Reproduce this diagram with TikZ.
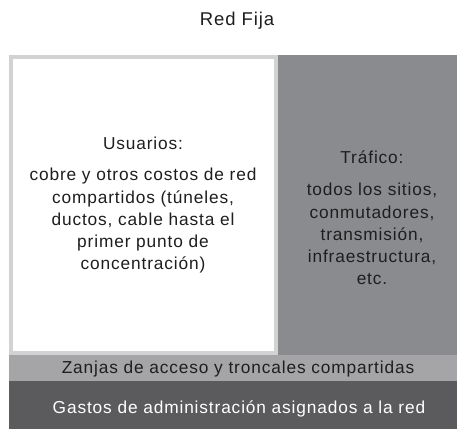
\documentclass[tikz,border=0pt]{standalone}
\usepackage{fontspec}
\setmainfont{Liberation Sans}[LetterSpace=5]
\definecolor{frame}{HTML}{D2D2D2}
\definecolor{traffic}{HTML}{8A8B8F}
\definecolor{zanja}{HTML}{A5A5A7}
\definecolor{gastos}{HTML}{5B5B5E}
\definecolor{ink}{HTML}{1E1E1E}
\tikzset{
  region/.style={inner sep=0pt, outer sep=0pt, anchor=north west},
  label/.style={text=ink, align=center, inner sep=0pt, font=\fontsize{17.3}{22.3}\selectfont},
}
\begin{document}
\begin{tikzpicture}[x=1pt,y=-1pt]
\useasboundingbox[fill=white] (0,0) rectangle (457,429);
\node[label, text=ink, font=\fontsize{18.5}{22}\selectfont] (title) at (237,21) {Red Fija};
\node[region, fill=frame, minimum width=269pt, minimum height=300pt] (ufr) at (9,55) {};
\node[region, fill=white, minimum width=261pt, minimum height=292pt] (usr) at (13,59) {};
\node[region, fill=traffic, minimum width=179pt, minimum height=300pt] (trf) at (278,55) {};
\node[region, fill=zanja, minimum width=448pt, minimum height=26pt] (zan) at (9,355) {};
\node[region, fill=gastos, minimum width=448pt, minimum height=48pt] (gas) at (9,381) {};
\node[label] (uhead) at (143,143) {Usuarios:};
\node[label, anchor=north] (utext) at (143,168) {cobre y otros costos de red\\compartidos (túneles,\\ductos, cable hasta el\\primer punto de\\concentración)};
\node[label] (thead) at (372,157) {Tráfico:};
\node[label, anchor=north] (ttext) at (372,183) {todos los sitios,\\conmutadores,\\transmisión,\\infraestructura,\\etc.};
\node[label] (ztext) at (238,369) {Zanjas de acceso y troncales compartidas};
\node[label, text=white] (gtext) at (239,409) {Gastos de administración asignados a la red};
\end{tikzpicture}
\end{document}
